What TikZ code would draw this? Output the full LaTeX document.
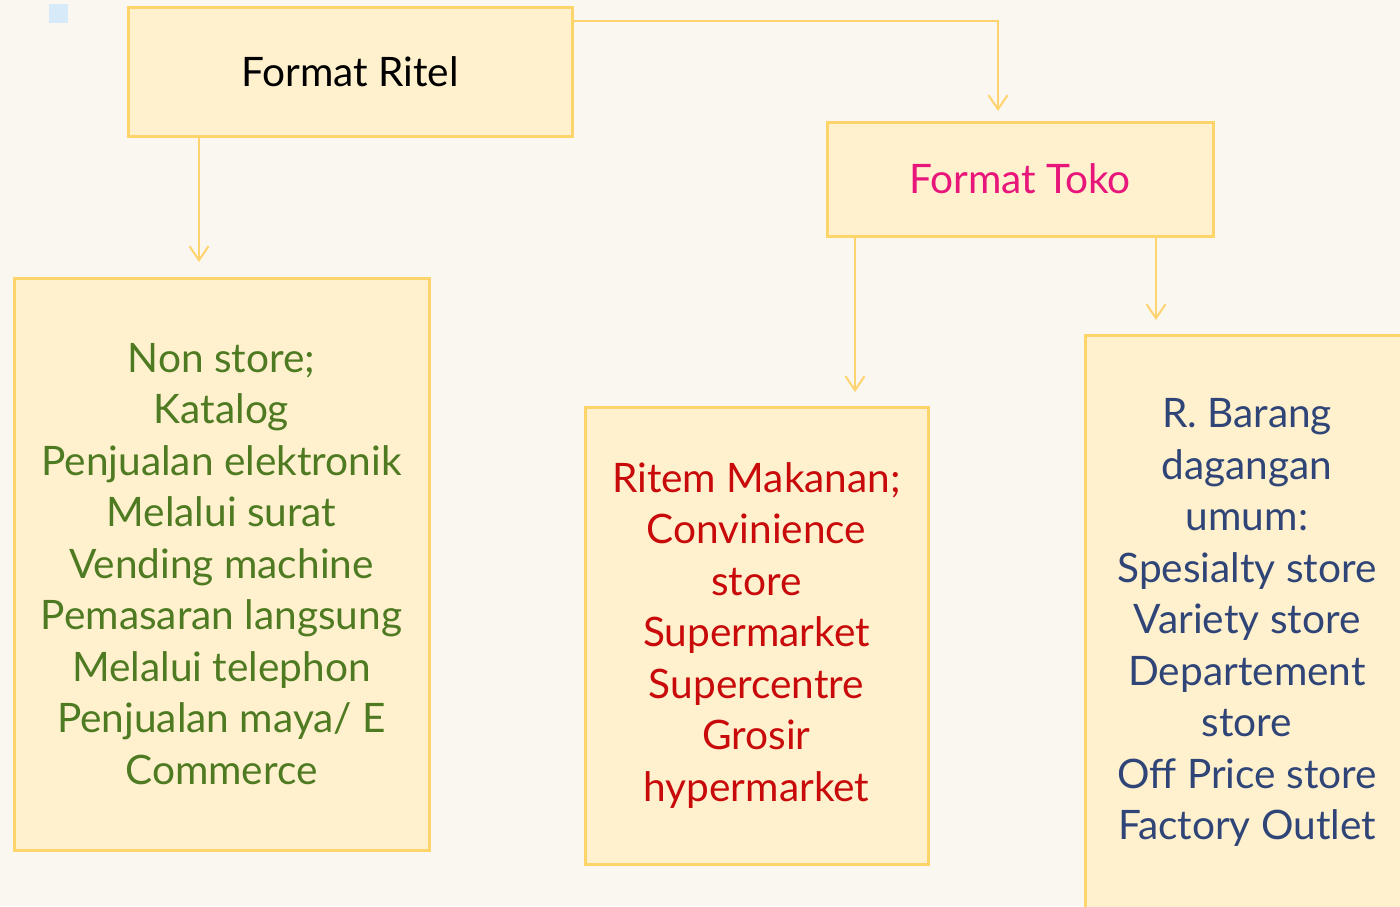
\documentclass[tikz,border=0pt]{standalone}
\usepackage{fontspec}
\setmainfont{Lato}
\usetikzlibrary{arrows.meta}
\definecolor{bgc}{HTML}{FAF6F0}
\definecolor{boxfill}{HTML}{FFF0CE}
\definecolor{boxline}{HTML}{FFD46A}
\definecolor{arrc}{HTML}{FFD470}
\definecolor{sq}{HTML}{D6EAFA}
\definecolor{tgreen}{HTML}{4E7A22}
\definecolor{tred}{HTML}{C80A0A}
\definecolor{tpink}{HTML}{E8157A}
\definecolor{tnavy}{HTML}{2F4577}
\tikzset{
  boxnode/.style={draw=boxline, fill=boxfill, line width=1.5pt, inner sep=0pt},
  txt/.style={font=\fontsize{20.3}{25.75}\selectfont, align=center, inner sep=0pt},
  conn/.style={draw=arrc, line width=1pt, -{Straight Barb[length=7pt,width=9.5pt]}},
}
\begin{document}
\begin{tikzpicture}[x=0.5pt,y=-0.5pt]
\fill[bgc] (0,0) rectangle (1400,906);
\useasboundingbox (0,0) rectangle (1400,906);
\fill[sq] (49,4) rectangle (68,23);
% boxes
\node[boxnode, minimum width=222pt, minimum height=64.5pt, txt, text=black] (ritel) at (350,71.5) {Format Ritel};
\node[boxnode, minimum width=193pt, minimum height=57pt, txt, text=tpink] (toko) at (1020,179) {Format Toko};
\node[boxnode, minimum width=207.5pt, minimum height=286pt, txt, text=tgreen] (nonstore) at (221.5,564)
 {Non store;\\Katalog\\Penjualan elektronik\\Melalui surat\\Vending machine\\Pemasaran langsung\\Melalui telephon\\Penjualan maya/ E\\Commerce};
\node[boxnode, minimum width=171.5pt, minimum height=228.5pt, txt, text=tred] (makanan) at (756.5,635.5)
 {Ritem Makanan;\\Convinience\\store\\Supermarket\\Supercentre\\Grosir\\hypermarket};
\node[boxnode, minimum width=167.5pt, minimum height=287.5pt] (umum) at (1252.5,622.5) {};
\node[txt, text=tnavy] (umumtxt) at (1247,622.5)
 {R. Barang\\dagangan\\umum:\\Spesialty store\\Variety store\\Departement\\store\\Off Price store\\Factory Outlet};
% connectors
\coordinate (t1) at (998,111);
\coordinate (t2) at (199,262);
\coordinate (t3) at (855,392);
\coordinate (t4) at (1156,320);
\draw[conn] (ritel.east |- 0,21) -- (998,21) -- (t1);
\draw[conn] (ritel.south -| t2) -- (t2);
\draw[conn] (toko.south -| t3) -- (t3);
\draw[conn] (toko.south -| t4) -- (t4);
\end{tikzpicture}
\end{document}
